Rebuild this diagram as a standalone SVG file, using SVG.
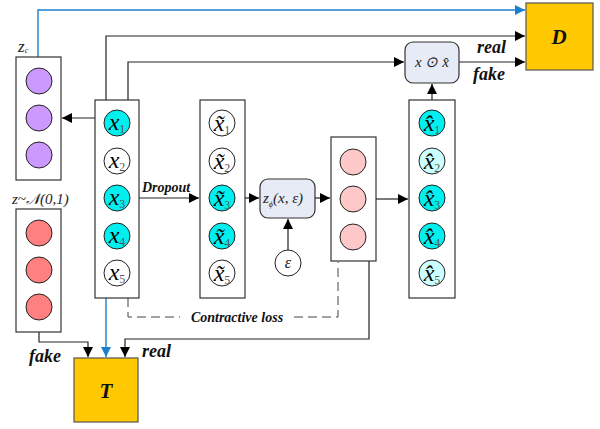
<svg xmlns="http://www.w3.org/2000/svg" width="600" height="429" viewBox="0 0 600 429">
  <defs>
    <marker id="arr" viewBox="0 0 10 10" refX="10" refY="5" markerWidth="10" markerHeight="10" markerUnits="userSpaceOnUse" orient="auto">
      <path d="M0,0 L10,5 L0,10 z" fill="#000"/>
    </marker>
    <marker id="arrB" viewBox="0 0 10 10" refX="10" refY="5" markerWidth="10" markerHeight="10" markerUnits="userSpaceOnUse" orient="auto">
      <path d="M0,0 L10,5 L0,10 z" fill="#1b7fd0"/>
    </marker>
  </defs>
  <style>
    .box { fill: #fff; stroke: #333; stroke-width: 1.2; }
    .rbox { fill: #e6ebf6; stroke: #333; stroke-width: 1.2; }
    .gbox { fill: #ffc800; stroke: #555; stroke-width: 1.2; }
    .node { stroke: #222; stroke-width: 1; }
    .cyan { fill: #00f0f0; }
    .white { fill: #fff; }
    .lcyan { fill: #ccffff; }
    .purple { fill: #cc99ff; }
    .pink { fill: #ffc8c8; }
    .red { fill: #ff8080; }
    .ln { fill: none; stroke: #222; stroke-width: 1.2; }
    .blue { fill: none; stroke: #1b7fd0; stroke-width: 1.4; }
    .dash { fill: none; stroke: #444; stroke-width: 1; stroke-dasharray: 9 5; }
    .var { font-family: "Liberation Serif", serif; font-style: italic; font-size: 24px; fill: #000; text-anchor: middle; }
    .sub { font-family: "Liberation Serif", serif; font-style: normal; font-size: 12px; fill: #555; }
    .lbl { font-family: "Liberation Serif", serif; font-style: italic; font-weight: bold; fill: #111; }
    .math { font-family: "Liberation Serif", serif; font-style: italic; fill: #222; }
  </style>

  <!-- connectors -->
  <g id="connectors">
    <polyline class="blue" points="38,57 38,10 525,10" marker-end="url(#arrB)"/>
    <polyline class="ln" points="106,100 106,36 525,36" marker-end="url(#arr)"/>
    <polyline class="ln" points="128,100 128,62 404,62" marker-end="url(#arr)"/>
    <line class="ln" x1="459" y1="62" x2="525" y2="62" marker-end="url(#arr)"/>
    <line class="ln" x1="432" y1="100" x2="432" y2="84" marker-end="url(#arr)"/>
    <line class="ln" x1="95" y1="118" x2="62" y2="118" marker-end="url(#arr)"/>
    <line class="ln" x1="139" y1="198" x2="199" y2="198" marker-end="url(#arr)"/>
    <line class="ln" x1="245" y1="198" x2="259" y2="198" marker-end="url(#arr)"/>
    <line class="ln" x1="315" y1="198" x2="330" y2="198" marker-end="url(#arr)"/>
    <line class="ln" x1="288" y1="250" x2="288" y2="219" marker-end="url(#arr)"/>
    <line class="ln" x1="376" y1="199" x2="408" y2="199" marker-end="url(#arr)"/>
    <polyline class="dash" points="128,298 128,317 180,317"/>
    <polyline class="dash" points="294,317 338,317 338,262"/>
    <polyline class="ln" points="39,332 39,342 88,342 88,357" marker-end="url(#arr)"/>
    <line class="blue" x1="106" y1="298" x2="106" y2="357" marker-end="url(#arrB)"/>
    <polyline class="ln" points="369,261 369,339 125,339 125,357" marker-end="url(#arr)"/>
  </g>

  <!-- encoder latent z_c -->
  <g id="zc">
    <rect class="box" x="16" y="57" width="45" height="123"/>
    <circle class="node purple" cx="39" cy="81" r="13"/>
    <circle class="node purple" cx="39" cy="118" r="13"/>
    <circle class="node purple" cx="39" cy="155" r="13"/>
    <text class="math" x="18" y="52" font-size="17" fill="#444">z<tspan font-size="8" dy="1">c</tspan></text>
  </g>

  <!-- prior sample z ~ N(0,1) -->
  <g id="zprior">
    <rect class="box" x="16" y="209" width="45" height="123"/>
    <circle class="node red" cx="39" cy="233" r="13"/>
    <circle class="node red" cx="39" cy="270" r="13"/>
    <circle class="node red" cx="39" cy="307" r="13"/>
    <text class="math" x="12" y="204" font-size="15" fill="#444">z~𝒩(0,1)</text>
  </g>

  <!-- input x -->
  <g id="x">
    <rect class="box" x="95" y="100" width="44" height="198"/>
    <circle class="node cyan" cx="117" cy="123" r="13"/>
    <circle class="node white" cx="117" cy="161" r="13"/>
    <circle class="node cyan" cx="117" cy="198" r="13"/>
    <circle class="node cyan" cx="117" cy="236" r="13"/>
    <circle class="node white" cx="117" cy="273" r="13"/>
    <text class="var" x="117" y="130">x<tspan class="sub" dy="3">1</tspan></text>
    <text class="var" x="117" y="168">x<tspan class="sub" dy="3">2</tspan></text>
    <text class="var" x="117" y="205">x<tspan class="sub" dy="3">3</tspan></text>
    <text class="var" x="117" y="243">x<tspan class="sub" dy="3">4</tspan></text>
    <text class="var" x="117" y="280">x<tspan class="sub" dy="3">5</tspan></text>
  </g>

  <!-- corrupted input -->
  <g id="xtilde">
    <rect class="box" x="200" y="100" width="45" height="198"/>
    <circle class="node white" cx="222" cy="123" r="13"/>
    <circle class="node white" cx="222" cy="161" r="13"/>
    <circle class="node cyan" cx="222" cy="198" r="13"/>
    <circle class="node cyan" cx="222" cy="236" r="13"/>
    <circle class="node white" cx="222" cy="273" r="13"/>
    <text class="var" x="222" y="131">x̃<tspan class="sub" dy="3">1</tspan></text>
    <text class="var" x="222" y="169">x̃<tspan class="sub" dy="3">2</tspan></text>
    <text class="var" x="222" y="206">x̃<tspan class="sub" dy="3">3</tspan></text>
    <text class="var" x="222" y="244">x̃<tspan class="sub" dy="3">4</tspan></text>
    <text class="var" x="222" y="281">x̃<tspan class="sub" dy="3">5</tspan></text>
  </g>

  <!-- encoder z_phi(x, eps) -->
  <g id="encoder">
    <rect class="rbox" x="260" y="179" width="55" height="39" rx="8"/>
    <text class="math" x="263" y="203" font-size="15">z<tspan font-size="8" dy="4">ϕ</tspan><tspan dy="-4" font-size="15">(x, ε)</tspan></text>
  </g>

  <g id="eps">
    <circle class="node white" cx="288" cy="263" r="13"/>
    <text class="math" x="288" y="268" font-size="16" text-anchor="middle">ε</text>
  </g>

  <!-- code layer -->
  <g id="code">
    <rect class="box" x="331" y="137" width="45" height="124"/>
    <circle class="node pink" cx="353" cy="162" r="13"/>
    <circle class="node pink" cx="353" cy="199" r="13"/>
    <circle class="node pink" cx="353" cy="237" r="13"/>
  </g>

  <!-- reconstruction -->
  <g id="xhat">
    <rect class="box" x="409" y="100" width="46" height="198"/>
    <circle class="node cyan" cx="432" cy="123" r="13"/>
    <circle class="node lcyan" cx="432" cy="161" r="13"/>
    <circle class="node cyan" cx="432" cy="198" r="13"/>
    <circle class="node cyan" cx="432" cy="236" r="13"/>
    <circle class="node lcyan" cx="432" cy="273" r="13"/>
    <text class="var" x="432" y="131">x̂<tspan class="sub" dy="3">1</tspan></text>
    <text class="var" x="432" y="169">x̂<tspan class="sub" dy="3">2</tspan></text>
    <text class="var" x="432" y="206">x̂<tspan class="sub" dy="3">3</tspan></text>
    <text class="var" x="432" y="244">x̂<tspan class="sub" dy="3">4</tspan></text>
    <text class="var" x="432" y="281">x̂<tspan class="sub" dy="3">5</tspan></text>
  </g>

  <!-- element-wise product -->
  <g id="product">
    <rect class="rbox" x="405" y="42" width="54" height="41" rx="8"/>
    <text class="math" x="432" y="67" font-size="15" text-anchor="middle">x ⊙ x̂</text>
  </g>

  <!-- discriminator D -->
  <g id="D">
    <rect class="gbox" x="526" y="3" width="67" height="67"/>
    <text class="lbl" x="559" y="44" font-size="21" text-anchor="middle">D</text>
  </g>

  <!-- discriminator T -->
  <g id="T">
    <rect class="gbox" x="74" y="358" width="64" height="64"/>
    <text class="lbl" x="106" y="398" font-size="21" text-anchor="middle">T</text>
  </g>

  <!-- edge labels -->
  <g id="labels">
    <text class="lbl" x="142" y="192" font-size="14">Dropout</text>
    <text class="lbl" x="237" y="322" font-size="14" text-anchor="middle">Contractive loss</text>
    <text class="lbl" x="477" y="53" font-size="18">real</text>
    <text class="lbl" x="473" y="80" font-size="18">fake</text>
    <text class="lbl" x="29" y="362" font-size="18">fake</text>
    <text class="lbl" x="142" y="357" font-size="18">real</text>
  </g>
</svg>
